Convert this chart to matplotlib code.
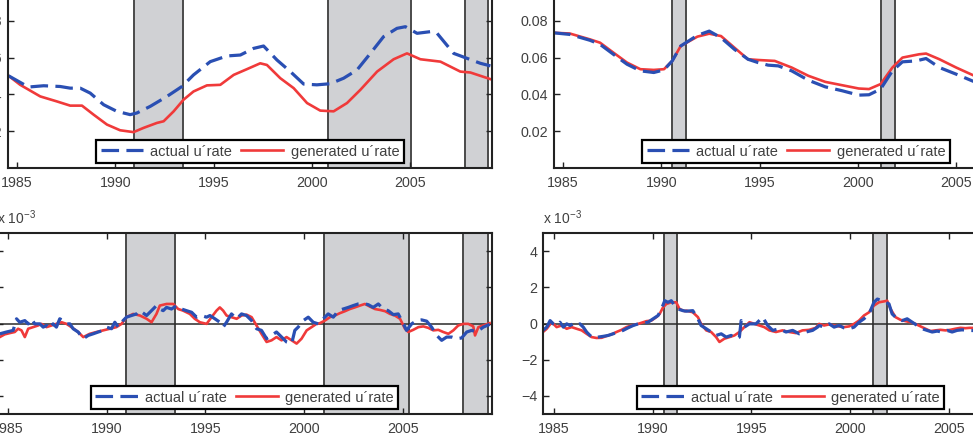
import matplotlib
matplotlib.use("Agg")
import matplotlib.pyplot as plt

plt.rcParams['font.family'] = ['Liberation Sans', 'DejaVu Sans']
plt.rcParams['mathtext.fontset'] = 'custom'
plt.rcParams['mathtext.rm'] = 'Liberation Sans'

# ---- data ----
# top left: level of the unemployment rate
tl_years_actual = [1984.58, 1985.59, 1986.36, 1987.20, 1987.71, 1988.22, 1988.73, 1989.41, 1990.08,
                   1990.76, 1991.10, 1991.78, 1992.63, 1993.39, 1993.98, 1994.83, 1995.68, 1996.36,
                   1997.03, 1997.54, 1998.22, 1998.90, 1999.58, 2000.25, 2000.93, 2001.61, 2002.29,
                   2002.97, 2003.64, 2004.32, 2004.75, 2005.34, 2006.02, 2006.36, 2007.20, 2007.88,
                   2008.56, 2009.07]
tl_actual = [0.0501, 0.0440, 0.0447, 0.0443, 0.0434, 0.0434, 0.0407, 0.0344, 0.0308,
             0.0290, 0.0299, 0.0335, 0.0389, 0.0443, 0.0506, 0.0578, 0.0609, 0.0614,
             0.0650, 0.0663, 0.0587, 0.0524, 0.0456, 0.0452, 0.0458, 0.0488, 0.0533,
             0.0623, 0.0714, 0.0759, 0.0768, 0.0732, 0.0741, 0.0732, 0.0623, 0.0596,
             0.0569, 0.0555]
tl_years_gen = [1984.58, 1985.17, 1986.19, 1987.03, 1987.71, 1988.31, 1988.90, 1989.58, 1990.25,
                1990.93, 1991.44, 1992.12, 1992.46, 1992.97, 1993.47, 1993.98, 1994.66, 1995.34,
                1996.02, 1996.69, 1997.37, 1997.71, 1998.39, 1999.07, 1999.75, 2000.42, 2001.10,
                2001.78, 2002.46, 2003.31, 2004.15, 2004.83, 2005.51, 2006.53, 2007.54, 2008.05,
                2009.07]
tl_gen = [0.0501, 0.0452, 0.0389, 0.0362, 0.0339, 0.0339, 0.0290, 0.0236, 0.0205,
          0.0195, 0.0218, 0.0245, 0.0254, 0.0308, 0.0371, 0.0416, 0.0449, 0.0452,
          0.0506, 0.0537, 0.0569, 0.0560, 0.0488, 0.0434, 0.0353, 0.0312, 0.0308,
          0.0353, 0.0425, 0.0524, 0.0591, 0.0623, 0.0591, 0.0578, 0.0524, 0.0519,
          0.0483]

# top right
tr_years_actual = [1984.50, 1985.35, 1986.38, 1986.89, 1987.57, 1988.26, 1988.94, 1989.62, 1990.14,
                   1990.56, 1990.99, 1991.84, 1992.44, 1993.04, 1993.72, 1994.41, 1994.92, 1995.43,
                   1995.95, 1996.63, 1997.48, 1998.34, 1999.19, 2000.04, 2000.56, 2001.15, 2001.75,
                   2002.26, 2002.95, 2003.46, 2004.14, 2004.99, 2006.00, 2006.50]
tr_actual = [0.0735, 0.0726, 0.0694, 0.0672, 0.0618, 0.0564, 0.0528, 0.0519, 0.0533,
             0.0582, 0.0663, 0.0721, 0.0744, 0.0708, 0.0645, 0.0591, 0.0573, 0.0559,
             0.0555, 0.0528, 0.0477, 0.0441, 0.0420, 0.0396, 0.0398, 0.0429, 0.0528,
             0.0577, 0.0582, 0.0595, 0.0546, 0.0510, 0.0465, 0.0450]
tr_years_gen = [1984.50, 1985.35, 1986.38, 1986.89, 1987.57, 1988.26, 1988.94, 1989.62, 1990.14,
                1990.56, 1990.99, 1991.84, 1992.44, 1993.04, 1993.72, 1994.41, 1994.92, 1995.77,
                1996.63, 1997.48, 1998.34, 1999.19, 2000.04, 2000.56, 2001.15, 2001.75, 2002.26,
                2003.11, 2003.46, 2004.14, 2004.99, 2006.00, 2006.50]
tr_gen = [0.0735, 0.0731, 0.0699, 0.0681, 0.0627, 0.0573, 0.0537, 0.0533, 0.0537,
          0.0582, 0.0663, 0.0714, 0.0730, 0.0717, 0.0654, 0.0591, 0.0587, 0.0582,
          0.0546, 0.0501, 0.0468, 0.0450, 0.0432, 0.0429, 0.0456, 0.0546, 0.0600,
          0.0618, 0.0622, 0.0591, 0.0546, 0.0497, 0.0480]

# bottom left: deviations, in units of 1e-3
bl_years_actual = [1984.58, 1984.92, 1985.26, 1985.43, 1985.59, 1985.85, 1986.02, 1986.19, 1986.35,
                   1986.61, 1986.78, 1986.95, 1987.12, 1987.28, 1987.45, 1987.62, 1987.79, 1987.96,
                   1988.13, 1988.30, 1988.55, 1988.81, 1989.06, 1989.31, 1989.57, 1989.82, 1989.99,
                   1990.24, 1990.41, 1990.58, 1990.83, 1991.00, 1991.25, 1991.51, 1991.68, 1992.02,
                   1992.35, 1992.52, 1992.69, 1992.86, 1993.03, 1993.28, 1993.54, 1993.79, 1994.04,
                   1994.30, 1994.55, 1994.80, 1995.06, 1995.23, 1995.48, 1995.73, 1995.90, 1996.07,
                   1996.32, 1996.58, 1996.83, 1997.08, 1997.34, 1997.59, 1997.84, 1998.10, 1998.35,
                   1998.60, 1998.86, 1999.11, 1999.37, 1999.53, 1999.70, 1999.96, 2000.21, 2000.46,
                   2000.72, 2000.97, 2001.22, 2001.48, 2001.73, 2001.98, 2002.24, 2002.49, 2002.74,
                   2003.00, 2003.25, 2003.50, 2003.76, 2004.01, 2004.26, 2004.52, 2004.77, 2005.03,
                   2005.19, 2005.45, 2005.70, 2005.95, 2006.21, 2006.46, 2006.72, 2006.97, 2007.22,
                   2007.48, 2007.73, 2007.98, 2008.24, 2008.49, 2008.74, 2009.08, 2009.40]
bl_actual = [-0.57, -0.47, -0.38, 0.26, 0.07, 0.16, -0.02, 0.26, -0.02,
             -0.02, -0.20, -0.11, -0.29, -0.02, -0.20, 0.26, 0.16, -0.02,
             -0.02, -0.29, -0.47, -0.84, -0.66, -0.57, -0.47, -0.38, -0.20,
             -0.29, 0.07, -0.20, 0.16, 0.35, 0.44, 0.53, 0.71, 0.44,
             0.80, 0.99, 0.80, 0.71, 0.89, 0.80, 0.99, 0.80, 0.71,
             0.62, 0.35, 0.44, 0.35, 0.44, 0.26, 0.07, -0.20, 0.07,
             0.53, 0.26, 0.53, 0.44, 0.16, -0.29, -0.38, -0.84, -0.66,
             -0.47, -0.75, -1.02, -1.11, -0.38, -0.20, 0.16, 0.35, 0.07,
             -0.02, 0.26, 0.53, 0.35, 0.71, 0.80, 0.89, 0.99, 1.08,
             1.11, 1.04, 0.89, 1.08, 0.80, 0.71, 0.49, 0.53, -0.02,
             -0.38, -0.02, 0.16, 0.20, 0.13, -0.20, -0.66, -0.93, -0.75,
             -0.75, -0.84, -0.80, -0.47, -0.38, -0.47, -0.20, -0.05]
bl_years_gen = [1984.58, 1984.83, 1985.09, 1985.34, 1985.51, 1985.68, 1985.85, 1986.02, 1986.27,
                1986.52, 1986.69, 1986.95, 1987.20, 1987.45, 1987.71, 1987.96, 1988.21, 1988.55,
                1988.81, 1989.14, 1989.48, 1989.82, 1990.16, 1990.49, 1990.75, 1991.00, 1991.34,
                1991.68, 1992.02, 1992.27, 1992.52, 1992.69, 1993.03, 1993.37, 1993.62, 1993.87,
                1994.21, 1994.46, 1994.72, 1995.06, 1995.31, 1995.56, 1995.73, 1995.90, 1996.07,
                1996.32, 1996.58, 1996.83, 1997.08, 1997.34, 1997.59, 1997.84, 1998.10, 1998.35,
                1998.60, 1998.86, 1999.11, 1999.37, 1999.62, 1999.87, 2000.13, 2000.38, 2000.63,
                2000.80, 2001.05, 2001.31, 2001.56, 2001.81, 2002.07, 2002.32, 2002.57, 2002.83,
                2003.08, 2003.34, 2003.59, 2003.84, 2004.10, 2004.35, 2004.60, 2004.86, 2005.11,
                2005.28, 2005.53, 2005.79, 2006.04, 2006.29, 2006.55, 2006.80, 2007.05, 2007.31,
                2007.56, 2007.81, 2008.07, 2008.32, 2008.57, 2008.66, 2008.83, 2009.08, 2009.40]
bl_gen = [-0.75, -0.60, -0.53, -0.47, -0.29, -0.38, -0.75, -0.29, -0.20,
          -0.11, -0.02, -0.20, -0.11, -0.02, 0.07, -0.02, -0.20, -0.47,
          -0.75, -0.57, -0.47, -0.38, -0.29, -0.20, -0.02, 0.35, 0.53,
          0.44, 0.26, 0.07, 0.53, 0.99, 1.08, 1.08, 0.80, 0.71,
          0.53, 0.26, 0.07, -0.02, 0.35, 0.71, 0.89, 0.71, 0.44,
          0.35, 0.26, 0.44, 0.49, 0.35, -0.11, -0.57, -1.02, -0.93,
          -0.75, -0.93, -0.75, -0.93, -1.11, -0.84, -0.38, -0.20, -0.02,
          0.02, 0.16, 0.35, 0.44, 0.57, 0.68, 0.80, 0.89, 0.99,
          1.08, 0.93, 0.80, 0.75, 0.68, 0.53, 0.44, 0.26, -0.29,
          -0.47, -0.35, -0.20, -0.16, -0.24, -0.38, -0.35, -0.47, -0.57,
          -0.38, -0.11, -0.02, -0.02, -0.16, -0.66, -0.20, -0.11, 0.02]

# bottom right: deviations, in units of 1e-3
br_years_actual = [1984.44, 1984.63, 1984.80, 1984.96, 1985.13, 1985.30, 1985.47, 1985.64, 1985.81,
                   1985.97, 1986.14, 1986.31, 1986.48, 1986.65, 1986.82, 1986.98, 1987.24, 1987.49,
                   1987.74, 1987.99, 1988.25, 1988.50, 1988.75, 1989.01, 1989.26, 1989.51, 1989.76,
                   1990.02, 1990.27, 1990.44, 1990.61, 1990.77, 1990.94, 1991.11, 1991.28, 1991.53,
                   1991.70, 1992.03, 1992.29, 1992.45, 1992.71, 1992.96, 1993.21, 1993.47, 1993.72,
                   1993.97, 1994.22, 1994.39, 1994.48, 1994.64, 1994.90, 1995.23, 1995.57, 1995.82,
                   1996.08, 1996.41, 1996.75, 1997.09, 1997.42, 1997.76, 1998.10, 1998.35, 1998.43,
                   1998.68, 1998.94, 1999.19, 1999.44, 1999.69, 1999.95, 2000.20, 2000.45, 2000.70,
                   2000.96, 2001.21, 2001.38, 2001.63, 2001.80, 2001.97, 2002.13, 2002.39, 2002.64,
                   2002.89, 2003.15, 2003.40, 2003.65, 2003.90, 2004.16, 2004.41, 2004.66, 2004.91,
                   2005.17, 2005.42, 2005.67, 2006.06, 2006.40]
br_actual = [-0.38, -0.20, 0.16, -0.02, -0.11, 0.07, -0.20, -0.02, -0.11,
             -0.02, -0.11, -0.02, -0.20, -0.47, -0.66, -0.79, -0.75, -0.71,
             -0.66, -0.57, -0.47, -0.38, -0.24, -0.11, -0.02, 0.02, 0.07,
             0.26, 0.44, 0.80, 1.26, 1.17, 1.26, 0.99, 0.80, 0.71,
             0.68, 0.71, 0.26, -0.11, -0.29, -0.47, -0.66, -0.57, -0.75,
             -0.66, -0.84, -0.75, 0.16, -0.20, -0.02, -0.02, 0.35, -0.11,
             -0.38, -0.29, -0.47, -0.38, -0.57, -0.47, -0.38, -0.20, -0.11,
             -0.20, -0.02, -0.20, -0.11, -0.24, -0.29, -0.20, 0.07, 0.26,
             0.53, 1.17, 1.35, 1.26, 1.17, 1.08, 0.53, 0.26, 0.16,
             0.26, 0.07, -0.11, -0.29, -0.38, -0.47, -0.42, -0.47, -0.38,
             -0.47, -0.38, -0.35, -0.38, -0.40]
br_years_gen = [1984.44, 1984.63, 1984.88, 1985.13, 1985.38, 1985.64, 1985.89, 1986.14, 1986.40,
                1986.65, 1986.90, 1987.15, 1987.41, 1987.66, 1987.91, 1988.16, 1988.42, 1988.67,
                1988.92, 1989.17, 1989.43, 1989.68, 1989.93, 1990.18, 1990.35, 1990.52, 1990.69,
                1990.94, 1991.19, 1991.36, 1991.62, 1991.70, 1992.03, 1992.29, 1992.45, 1992.71,
                1992.96, 1993.21, 1993.38, 1993.63, 1993.89, 1994.14, 1994.39, 1994.64, 1994.90,
                1995.15, 1995.40, 1995.65, 1995.91, 1996.24, 1996.58, 1996.92, 1997.25, 1997.59,
                1997.93, 1998.26, 1998.43, 1998.68, 1998.94, 1999.19, 1999.44, 1999.69, 1999.95,
                2000.20, 2000.45, 2000.70, 2000.96, 2001.21, 2001.46, 2001.71, 2001.88, 2002.05,
                2002.30, 2002.56, 2002.81, 2003.06, 2003.31, 2003.57, 2003.82, 2004.07, 2004.32,
                2004.58, 2004.83, 2005.08, 2005.33, 2005.59, 2005.84, 2006.06, 2006.40]
br_gen = [-0.47, -0.29, 0.07, -0.20, -0.11, -0.29, -0.20, -0.29, -0.38,
          -0.57, -0.75, -0.80, -0.79, -0.69, -0.60, -0.47, -0.35, -0.20,
          -0.11, -0.05, 0.04, 0.13, 0.16, 0.35, 0.53, 0.89, 1.08,
          1.17, 1.17, 0.80, 0.68, 0.71, 0.62, 0.35, -0.02, -0.38,
          -0.47, -0.75, -1.02, -0.84, -0.75, -0.66, -0.47, -0.20, 0.07,
          -0.02, -0.11, -0.20, -0.38, -0.47, -0.38, -0.47, -0.53, -0.38,
          -0.35, -0.24, -0.02, -0.11, -0.05, -0.11, -0.16, -0.20, -0.16,
          -0.02, 0.16, 0.44, 0.62, 0.99, 1.17, 1.22, 1.26, 0.80,
          0.35, 0.20, 0.13, 0.07, -0.02, -0.16, -0.29, -0.42, -0.38,
          -0.35, -0.38, -0.35, -0.29, -0.24, -0.26, -0.24, -0.25]

# shaded periods
tl_shade = [(1990.97, 1993.46), (2000.83, 2005.05), (2007.80, 2008.97)]
bl_shade = [(1990.97, 1993.45), (2001.00, 2005.31), (2008.04, 2009.33)]
right_shade = [(1990.55, 1991.25), (2001.15, 2001.88)]

BLUE = '#2a4fb3'
RED = '#f03a3a'
TXT = '#404040'
W, H = 973, 447

fig = plt.figure(figsize=(W / 100, H / 100), dpi=100)


def add_axes(left, right, top, bottom):
    return fig.add_axes([left / W, 1 - bottom / H, (right - left) / W, (bottom - top) / H])


def style(ax, xlim, ylim, yticks, ylabels, shades, zero_line=False):
    for a, b in shades:
        ax.axvspan(a, b, facecolor='#d0d1d4', edgecolor='#4a4a4a', linewidth=1.4, zorder=0)
    if zero_line:
        ax.axhline(0, color='#2a2a2a', linewidth=1.1, zorder=1)
    ax.set_xlim(*xlim)
    ax.set_ylim(*ylim)
    ax.set_xticks([1985, 1990, 1995, 2000, 2005])
    ax.set_yticks(yticks)
    ax.set_yticklabels(ylabels)
    ax.tick_params(direction='in', length=4, width=1, top=True, right=True,
                   labelsize=10.3, labelcolor=TXT, color='#222222')
    ax.tick_params(axis='x', pad=6)
    ax.tick_params(axis='y', pad=4)
    for s in ax.spines.values():
        s.set_linewidth(1.5)
        s.set_color('#222222')
        s.set_zorder(5)
    leg = ax.legend(loc='lower center', ncol=2, frameon=True, fancybox=False,
                    fontsize=10.5, handlelength=2.9, handletextpad=0.5,
                    columnspacing=0.6, borderpad=0.3, borderaxespad=0.35,
                    labelcolor=TXT)
    leg.get_frame().set_edgecolor('black')
    leg.get_frame().set_linewidth(1.6)
    leg.get_frame().set_alpha(1)
    leg.set_zorder(6)


def draw(ax, xa, ya, xg, yg):
    ax.plot(xa, ya, color=BLUE, linewidth=2.3, dashes=(5.5, 2.3), label='actual u\u00b4rate', zorder=3)
    ax.plot(xg, yg, color=RED, linewidth=1.9, label='generated u\u00b4rate', zorder=2)


top_ticks = [0.02, 0.04, 0.06, 0.08]
top_labels = ['0.02', '0.04', '0.06', '0.08']
bot_ticks = [-4, -2, 0, 2, 4]
bot_labels = ['\u22124', '\u22122', '0', '2', '4']

ax1 = add_axes(8, 492, -16, 168)
draw(ax1, tl_years_actual, tl_actual, tl_years_gen, tl_gen)
style(ax1, (1984.55, 2009.15), (0, 0.1), top_ticks, top_labels, tl_shade)

ax2 = add_axes(554, 1038, -16, 168)
draw(ax2, tr_years_actual, tr_actual, tr_years_gen, tr_gen)
style(ax2, (1984.55, 2009.15), (0, 0.1), top_ticks, top_labels, right_shade)

ax3 = add_axes(-3, 492, 233, 414)
draw(ax3, bl_years_actual, bl_actual, bl_years_gen, bl_gen)
style(ax3, (1984.44, 2009.52), (-5, 5), bot_ticks, bot_labels, bl_shade, zero_line=True)

ax4 = add_axes(543, 1038, 233, 414)
draw(ax4, br_years_actual, br_actual, br_years_gen, br_gen)
style(ax4, (1984.44, 2009.52), (-5, 5), bot_ticks, bot_labels, right_shade, zero_line=True)

for ax in (ax3, ax4):
    ax.text(0, 1.035, r'x 10$^{\mathrm{-3}}$', transform=ax.transAxes, ha='left', va='bottom',
            fontsize=10, color=TXT)

fig.savefig('out.png', dpi=100)
